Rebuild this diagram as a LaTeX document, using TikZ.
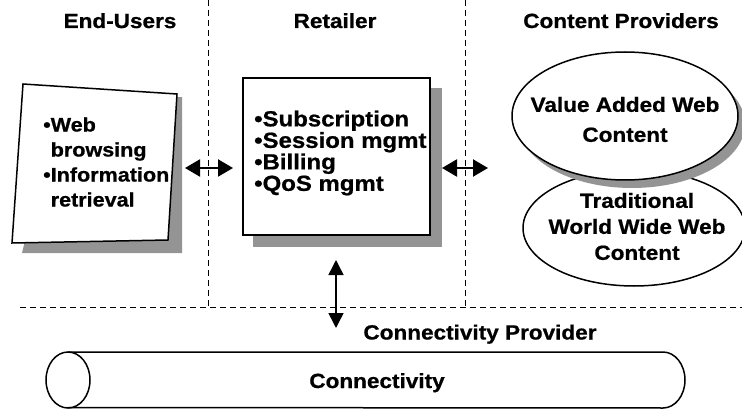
\documentclass[tikz,border=0pt]{standalone}
\usepackage{fontspec}
\setmainfont{Liberation Sans}[FakeStretch=1.1, BoldFeatures={FakeBold=0.8, FakeStretch=1.1}]
\usetikzlibrary{arrows.meta,shapes.geometric}
\begin{document}
\begin{tikzpicture}[x=1pt,y=-1pt,
  lbl/.style={font=\fontsize{20.5}{24}\selectfont\bfseries, inner sep=0pt},
  divider/.style={dash pattern=on 6pt off 4pt, line width=0.9pt},
  outline/.style={line width=1.5pt},
  shadowfill/.style={fill=black!42},
  dbl/.style={line width=2.2pt, {Triangle[length=15pt,width=17pt]}-{Triangle[length=15pt,width=17pt]}},
  vdbl/.style={line width=1.5pt, {Triangle[length=15pt,width=15pt]}-{Triangle[length=15pt,width=15pt]}},
]
\useasboundingbox (0,0) rectangle (742,409);

% role dividers
\coordinate (d1t) at (208,0);  \coordinate (d1b) at (208,307);
\coordinate (d2t) at (465,0);  \coordinate (d2b) at (465,307);
\coordinate (hl) at (20,307);  \coordinate (hr) at (742,307);
\draw[divider] (d1t) -- (d1b);
\draw[divider] (d2t) -- (d2b);
\draw[divider] (hl) -- (hr);

% column titles
\node[lbl, anchor=base] (tUsers) at (120,28) {End-Users};
\node[lbl, anchor=base] (tRet)   at (335,28) {Retailer};
\node[lbl, anchor=base] (tCP)    at (621,28) {Content Providers};

% end-user box (slightly skewed card with shadow)
\fill[shadowfill] (60,100) -- (182,97) -- (182,253) -- (22,253) -- cycle;
\draw[outline, fill=white] (23,84) -- (177,94) -- (168,240) -- (12,243) -- cycle;
\node[lbl, align=left, anchor=west, font=\fontsize{19.6}{25}\selectfont\bfseries] (usr) at (43,162)
  {•Web\\\hphantom{•}browsing\\•Information\\\hphantom{•}retrieval};

% retailer box
\fill[shadowfill] (253,88) rectangle (442,247);
\node[draw, outline, fill=white, minimum width=187pt, minimum height=157pt, inner sep=0pt] (ret) at (336.5,156.5) {};
\node[lbl, align=left, anchor=west, font=\fontsize{21.8}{21.5}\selectfont\bfseries] (retTxt) at (254,153)
  {•Subscription\\•Session mgmt\\•Billing\\•QoS mgmt};

% content provider ellipses
\node[ellipse, draw, outline, fill=white, minimum width=222pt, minimum height=116pt, inner sep=0pt] (trad) at (634,228) {};
\fill[shadowfill] (632,124) ellipse[x radius=113, y radius=64];
\node[ellipse, draw, outline, fill=white, minimum width=226pt, minimum height=128pt, inner sep=0pt] (vaw) at (625,116) {};
\node[lbl, align=center, font=\fontsize{20.5}{30}\selectfont\bfseries] (vawTxt) at (625,119.5) {Value Added Web\\Content};
\node[lbl, align=center, font=\fontsize{20.5}{26}\selectfont\bfseries] (tradTxt) at (637,226.5) {Traditional\\World Wide Web\\Content};

% interaction arrows
\coordinate (la1) at (185,168); \coordinate (la2) at (233,168);
\coordinate (ra1) at (442,168); \coordinate (ra2) at (488,168);
\coordinate (va1) at (336,260); \coordinate (va2) at (336,328);
\draw[dbl] (la1) -- (la2);
\draw[dbl] (ra1) -- (ra2);
\draw[vdbl] (va1) -- (va2);

% connectivity provider
\node[lbl, anchor=base] (cpTitle) at (480,339.5) {Connectivity Provider};
\draw[outline] (68,352) -- (663,352) arc[start angle=-90, end angle=90, x radius=22, y radius=28] -- (68,407.5);
\draw[outline] (68,380) ellipse[x radius=22, y radius=28];
\node[lbl, anchor=base] (conn) at (377,388) {Connectivity};
\end{tikzpicture}
\end{document}
